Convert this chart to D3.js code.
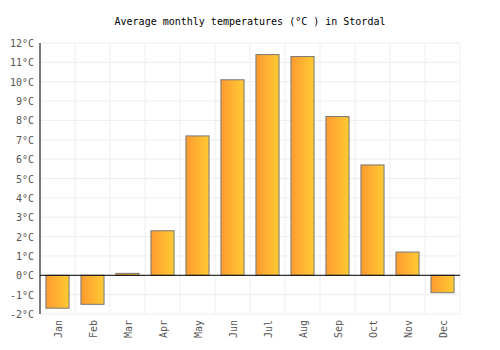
<!DOCTYPE html>
<html>
<head>
<meta charset="utf-8">
<script src="https://cdn.jsdelivr.net/npm/d3@7"></script>
<style>
  body { margin: 0; background: #fff; }
  text { font-family: "DejaVu Sans Mono", monospace; }
</style>
</head>
<body>
<svg id="chart" width="500" height="350"></svg>
<script>
let months = ["Jan", "Feb", "Mar", "Apr", "May", "Jun", "Jul", "Aug", "Sep", "Oct", "Nov", "Dec"]
let temps = [-1.7, -1.5, 0.1, 2.3, 7.2, 10.1, 11.4, 11.3, 8.2, 5.7, 1.2, -0.9]
let yTicks = [-2, -1, 0, 1, 2, 3, 4, 5, 6, 7, 8, 9, 10, 11, 12]

let margin = { top: 43, right: 40, bottom: 36, left: 40 }
let width = 500, height = 350

let svg = d3.select("#chart")

// 渐变
let grad = svg.append("defs").append("linearGradient")
    .attr("id", "barGrad")
    .attr("x1", "0%").attr("x2", "100%").attr("y1", "0%").attr("y2", "0%")
grad.append("stop").attr("offset", "0%").attr("stop-color", "#ff9a30")
grad.append("stop").attr("offset", "100%").attr("stop-color", "#ffcb33")

let xScale = d3.scaleBand()
    .domain(months)
    .range([margin.left, width - margin.right])
    .paddingInner(0.34)
    .paddingOuter(0.17)

let yScale = d3.scaleLinear()
    .domain([-2, 12])
    .range([height - margin.bottom, margin.top])

// 网格
svg.append("g").selectAll("line")
    .data(yTicks)
    .enter().append("line")
    .attr("x1", margin.left).attr("x2", width - margin.right)
    .attr("y1", d => yScale(d)).attr("y2", d => yScale(d))
    .attr("stroke", "#eeeeee")
svg.append("g").selectAll("line")
    .data(d3.range(months.length + 1))
    .enter().append("line")
    .attr("x1", i => margin.left + i * (width - margin.left - margin.right) / months.length)
    .attr("x2", i => margin.left + i * (width - margin.left - margin.right) / months.length)
    .attr("y1", margin.top).attr("y2", height - margin.bottom)
    .attr("stroke", "#eeeeee")

// 柱子
svg.append("g").selectAll("rect")
    .data(temps)
    .enter().append("rect")
    .attr("x", (d, i) => xScale(months[i]))
    .attr("width", xScale.bandwidth())
    .attr("y", d => yScale(Math.max(0, d)))
    .attr("height", d => Math.abs(yScale(d) - yScale(0)))
    .attr("fill", "url(#barGrad)")
    .attr("stroke", "#777777")
    .attr("stroke-width", 1)

// 零线和左轴
svg.append("line")
    .attr("x1", margin.left).attr("x2", width - margin.right)
    .attr("y1", yScale(0)).attr("y2", yScale(0))
    .attr("stroke", "#000")
svg.append("line")
    .attr("x1", margin.left).attr("x2", margin.left)
    .attr("y1", margin.top).attr("y2", height - margin.bottom)
    .attr("stroke", "#000")

// y 轴标签
svg.append("g").selectAll("text")
    .data(yTicks)
    .enter().append("text")
    .attr("x", margin.left - 6)
    .attr("y", d => yScale(d) + 4)
    .attr("text-anchor", "end")
    .attr("font-size", "10px")
    .attr("fill", "#555")
    .text(d => d + "°C")

// x 轴标签
svg.append("g").selectAll("text")
    .data(months)
    .enter().append("text")
    .attr("transform", d => "translate(" + (xScale(d) + xScale.bandwidth() / 2 + 4) + "," + (height - margin.bottom + 6) + ") rotate(-90)")
    .attr("text-anchor", "end")
    .attr("font-size", "10px")
    .attr("fill", "#555")
    .text(d => d)

// 标题
svg.append("text")
    .attr("x", width / 2)
    .attr("y", 25)
    .attr("text-anchor", "middle")
    .attr("font-size", "10px")
    .attr("fill", "#000")
    .text("Average monthly temperatures (°C ) in Stordal")
</script>
</body>
</html>
